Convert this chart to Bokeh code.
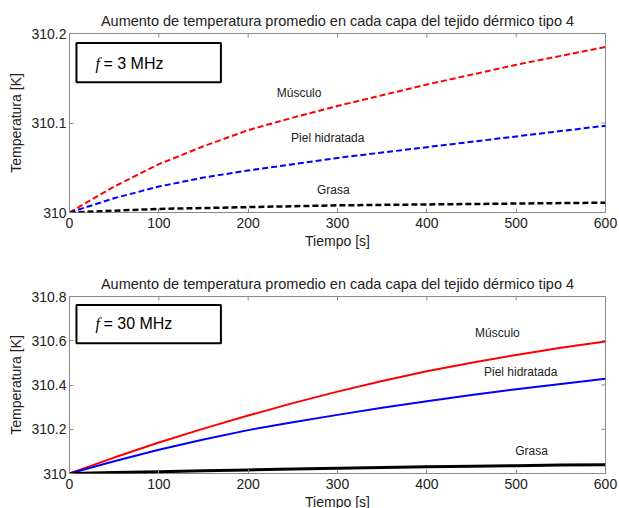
import math
from bokeh.plotting import figure
from bokeh.layouts import column
from bokeh.models import Range1d, FixedTicker, Label, BoxAnnotation
from bokeh.embed import file_html
from bokeh.resources import INLINE

# ---------------- data ----------------
t = [0, 50, 100, 150, 200, 250, 300, 350, 400, 450, 500, 550, 600]

# f = 3 MHz
musculo_3 = [310.000, 310.029, 310.054, 310.074, 310.092, 310.106, 310.119,
             310.131, 310.143, 310.154, 310.165, 310.175, 310.185]
piel_3 = [310.000, 310.016, 310.029, 310.039, 310.047, 310.054, 310.061,
          310.067, 310.073, 310.079, 310.085, 310.091, 310.097]
grasa_3 = [310.000, 310.002, 310.004, 310.005, 310.006, 310.007, 310.008,
           310.0085, 310.009, 310.0095, 310.010, 310.0105, 310.011]

# f = 30 MHz
musculo_30 = [310.000, 310.072, 310.140, 310.203, 310.262, 310.318, 310.370,
              310.418, 310.462, 310.501, 310.536, 310.568, 310.597]
piel_30 = [310.000, 310.055, 310.107, 310.154, 310.196, 310.232, 310.265,
           310.297, 310.327, 310.355, 310.381, 310.405, 310.428]
grasa_30 = [310.000, 310.004, 310.008, 310.012, 310.016, 310.020, 310.024,
            310.027, 310.030, 310.033, 310.035, 310.038, 310.040]

x_ticks = [0, 100, 200, 300, 400, 500, 600]
x_tick_labels = ["0", "100", "200", "300", "400", "500", "600"]
y_ticks_3 = [310.0, 310.1, 310.2]
y_tick_labels_3 = ["310", "310.1", "310.2"]
y_ticks_30 = [310.0, 310.2, 310.4, 310.6, 310.8]
y_tick_labels_30 = ["310", "310.2", "310.4", "310.6", "310.8"]

title_text = "Aumento de temperatura promedio en cada capa del tejido dérmico tipo 4"
x_label = "Tiempo [s]"
y_label = "Temperatura [K]"
series_names = ["Músculo", "Piel hidratada", "Grasa"]
freq_labels = ["= 3 MHz", "= 30 MHz"]

X_RANGE = (0, 600)
FONT = "Liberation Sans"
TXT = "#222222"
FRAME = "#8a8a8a"


def make_fig(yr, yticks, ylabels, top_border, bottom_border, frame_h):
    p = figure(frame_width=536, frame_height=frame_h,
               x_range=Range1d(*X_RANGE), y_range=Range1d(*yr),
               output_backend="svg", toolbar_location=None,
               min_border_left=69, min_border_right=14,
               min_border_top=top_border, min_border_bottom=bottom_border,
               background_fill_color="white", border_fill_color="white")
    p.grid.visible = False
    p.outline_line_color = FRAME
    p.outline_line_width = 1
    p.title.text = title_text
    p.title.align = "center"
    p.title.text_font = FONT
    p.title.text_font_size = "14.5px"
    p.title.text_font_style = "normal"
    p.title.text_color = TXT
    p.title.standoff = 10

    xa = p.xaxis[0]
    ya = p.yaxis[0]
    xa.ticker = FixedTicker(ticks=x_ticks)
    xa.major_label_overrides = {k: v for k, v in zip(x_ticks, x_tick_labels)}
    ya.ticker = FixedTicker(ticks=yticks)
    ya.major_label_overrides = {k: v for k, v in zip(yticks, ylabels)}
    xa.axis_label = x_label
    ya.axis_label = y_label
    for ax in (xa, ya):
        ax.axis_line_color = None
        ax.major_tick_in = 4
        ax.major_tick_out = 0
        ax.major_tick_line_color = FRAME
        ax.minor_tick_line_color = None
        ax.major_label_text_font = FONT
        ax.major_label_text_font_size = "14px"
        ax.major_label_text_color = TXT
        ax.axis_label_text_font = FONT
        ax.axis_label_text_font_size = "14px"
        ax.axis_label_text_font_style = "normal"
        ax.axis_label_text_color = TXT
    xa.major_label_standoff = 5
    xa.axis_label_standoff = 2
    ya.major_label_standoff = 3
    ya.axis_label_standoff = 4

    # mirrored tick marks on the top and right edges (MATLAB box style)
    p.ray(x=x_ticks, y=[yr[1]] * len(x_ticks), length=4, length_units="screen",
          angle=-math.pi / 2, line_color=FRAME, line_width=1)
    p.ray(x=[X_RANGE[1]] * len(yticks), y=yticks, length=4, length_units="screen",
          angle=math.pi, line_color=FRAME, line_width=1)
    return p


def freq_box(p, left, right, top, bottom):
    p.add_layout(BoxAnnotation(left=left, right=right, top=top, bottom=bottom,
                               fill_color="white", fill_alpha=1.0,
                               line_color="black", line_alpha=1.0, line_width=2))


# ---------------- top: 3 MHz ----------------
p1 = make_fig((310, 310.2), y_ticks_3, y_tick_labels_3, 33, 42, 179)
p1.line(t, musculo_3, line_color="#ff0000", line_width=2, line_dash="6 3")
p1.line(t, piel_3, line_color="#0000ff", line_width=2, line_dash="6 3")
p1.line(t, grasa_3, line_color="#000000", line_width=2.5, line_dash="6 3")

freq_box(p1, 7.8, 169.5, 310.1895, 310.1455)
p1.add_layout(Label(x=29, y=310.166, text="f", text_font="Liberation Serif",
                    text_font_style="italic", text_font_size="16px",
                    text_color="black", text_baseline="middle", text_align="left"))
p1.add_layout(Label(x=38, y=310.166, text=freq_labels[0], text_font=FONT,
                    text_font_size="16px", text_color="black",
                    text_baseline="middle", text_align="left"))
for (lx, ly), name in zip([(232, 310.1337), (248, 310.0834), (277, 310.0254)], series_names):
    p1.add_layout(Label(x=lx, y=ly, text=name, text_font=FONT, text_font_size="12px",
                        text_color=TXT, text_baseline="middle", text_align="left"))

# ---------------- bottom: 30 MHz ----------------
p2 = make_fig((310, 310.8), y_ticks_30, y_tick_labels_30, 42, 35, 177)
p2.line(t, musculo_30, line_color="#ff0000", line_width=2)
p2.line(t, piel_30, line_color="#0000ff", line_width=2)
p2.line(t, grasa_30, line_color="#000000", line_width=3)

freq_box(p2, 7.8, 169.5, 310.7615, 310.5885)
p2.add_layout(Label(x=29, y=310.676, text="f", text_font="Liberation Serif",
                    text_font_style="italic", text_font_size="16px",
                    text_color="black", text_baseline="middle", text_align="left"))
p2.add_layout(Label(x=38, y=310.676, text=freq_labels[1], text_font=FONT,
                    text_font_size="16px", text_color="black",
                    text_baseline="middle", text_align="left"))
for (lx, ly), name in zip([(454, 310.636), (464, 310.457), (499, 310.100)], series_names):
    p2.add_layout(Label(x=lx, y=ly, text=name, text_font=FONT, text_font_size="12px",
                        text_color=TXT, text_baseline="middle", text_align="left"))

layout = column(p1, p2, spacing=0)
open("out.html", "w").write(file_html(layout, INLINE))
